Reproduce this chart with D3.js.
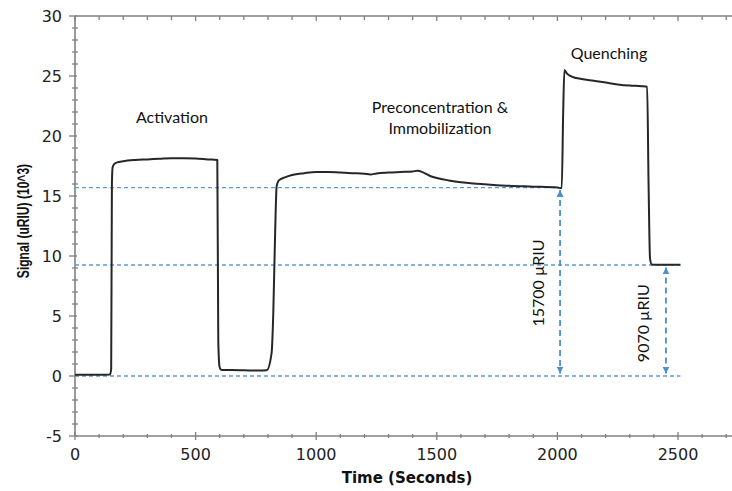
<!DOCTYPE html>
<html>
<head>
<meta charset="utf-8">
<script src="https://cdn.jsdelivr.net/npm/d3@7"></script>
<style>
  body { margin: 0; background: #fff; }
  svg { display: block; }
  .tick-label { font-family: "DejaVu Sans", sans-serif; font-size: 16px; fill: #222; }
  .axis-title { font-family: "DejaVu Sans", sans-serif; font-weight: bold; fill: #111; }
  .note { font-family: Lato, "Open Sans", sans-serif; font-size: 16px; fill: #111; }
</style>
</head>
<body>
<div class="chart"></div>
<script>
// sensorgram trace, time in seconds, signal in 10^3 uRIU
const times  = [0, 100, 145, 150, 153, 156, 162, 175, 200, 250, 300, 350, 400, 450, 500, 550, 590,
  594, 599, 604, 610, 650, 700, 760, 795, 815, 822, 829, 836, 845, 870, 900, 950, 1000, 1050,
  1100, 1150, 1200, 1225, 1250, 1300, 1350, 1400, 1420, 1445, 1475, 1500, 1550, 1600, 1650,
  1700, 1800, 1900, 2000, 2018, 2024, 2029, 2040, 2060, 2100, 2150, 2200, 2250, 2300, 2350,
  2372, 2378, 2384, 2391, 2410, 2450, 2510];
const signal = [0.1, 0.1, 0.12, 0.6, 16.0, 17.4, 17.65, 17.8, 17.9, 18.0, 18.05, 18.1, 18.15, 18.15, 18.12, 18.05, 18.0,
  3.0, 0.8, 0.55, 0.5, 0.5, 0.48, 0.45, 0.48, 1.9, 5.2, 11.3, 15.8, 16.3, 16.55, 16.75, 16.9, 17.0, 17.0,
  16.95, 16.9, 16.85, 16.8, 16.88, 16.95, 17.0, 17.05, 17.1, 16.95, 16.65, 16.5, 16.3, 16.15, 16.05,
  15.98, 15.85, 15.78, 15.7, 15.65, 22.0, 25.5, 25.2, 24.95, 24.75, 24.6, 24.45, 24.3, 24.2, 24.15,
  24.1, 16.0, 9.8, 9.3, 9.28, 9.27, 9.27];

// reference levels (dashed)
const refLevels = [15.7, 9.25, 0];
const refEnds   = [2020, 2510, 2510];

// measured differences
const arrowTimes  = [2011, 2450];
const arrowTops   = [15.5, 9.05];
const arrowLabels = ["15700 µRIU", "9070 µRIU"];
const arrowLabelX = [1920, 2355];
const arrowLabelY = [7.75, 4.4];

// phase annotations
const phaseLines = [["Activation"], ["Preconcentration &", "Immobilization"], ["Quenching"]];
const phaseX = [402, 1513, 2214];
const phaseY = [21.1, 21.9, 26.4];

const yTicks = [-5, 0, 5, 10, 15, 20, 25, 30];
const xTicks = [0, 500, 1000, 1500, 2000, 2500];

const W = 732, H = 491;
const margin = {top: 16, left: 75, bottom: 55};
const plotBottom = H - margin.bottom; // 436

const svg = d3.select(".chart").append("svg")
  .attr("width", W)
  .attr("height", H);

const x = d3.scaleLinear().domain([0, 2750]).range([margin.left, margin.left + 2750 * 0.2412]);
const y = d3.scaleLinear().domain([-5, 30]).range([plotBottom, margin.top]);

const defs = svg.append("defs");
defs.append("marker")
  .attr("id", "arr")
  .attr("viewBox", "0 0 10 10")
  .attr("refX", 10).attr("refY", 5)
  .attr("markerWidth", 7).attr("markerHeight", 7)
  .attr("markerUnits", "userSpaceOnUse")
  .attr("orient", "auto-start-reverse")
  .append("path")
  .attr("d", "M0,0 L10,5 L0,10 Z")
  .attr("fill", "#4a8fd4");

const axisColor = "#808080";

// axes
const minorX = d3.range(0, 2800, 100);
const minorY = d3.range(-5, 31, 1);

const g = svg.append("g");
g.append("line").attr("x1", x(0)).attr("x2", W).attr("y1", plotBottom).attr("y2", plotBottom)
  .attr("stroke", axisColor).attr("stroke-width", 1.6);
g.append("line").attr("x1", x(0)).attr("x2", W).attr("y1", margin.top).attr("y2", margin.top)
  .attr("stroke", axisColor).attr("stroke-width", 1.6);
g.append("line").attr("x1", x(0)).attr("x2", x(0)).attr("y1", margin.top).attr("y2", plotBottom)
  .attr("stroke", axisColor).attr("stroke-width", 1.6);

// bottom ticks
g.selectAll(".xb").data(minorX).join("line")
  .attr("x1", d => x(d)).attr("x2", d => x(d))
  .attr("y1", d => plotBottom - (d % 500 === 0 ? 4 : 2))
  .attr("y2", d => plotBottom + (d % 500 === 0 ? 4 : 2))
  .attr("stroke", axisColor).attr("stroke-width", 1.3);
// top ticks
g.selectAll(".xt").data(minorX).join("line")
  .attr("x1", d => x(d)).attr("x2", d => x(d))
  .attr("y1", margin.top)
  .attr("y2", d => margin.top + (d % 500 === 0 ? 5 : 4))
  .attr("stroke", axisColor).attr("stroke-width", 1.3);
// left ticks
g.selectAll(".yl").data(minorY).join("line")
  .attr("y1", d => y(d)).attr("y2", d => y(d))
  .attr("x1", d => x(0) - (d % 5 === 0 ? 6 : 3))
  .attr("x2", d => x(0) + (d % 5 === 0 ? 2 : 3))
  .attr("stroke", axisColor).attr("stroke-width", 1.3);

g.selectAll(".ylab").data(yTicks).join("text")
  .attr("class", "tick-label")
  .attr("x", x(0) - 13)
  .attr("y", d => y(d))
  .attr("dy", "0.36em")
  .attr("text-anchor", "end")
  .text(d => d);

g.selectAll(".xlab").data(xTicks).join("text")
  .attr("class", "tick-label")
  .attr("x", d => x(d))
  .attr("y", 460)
  .attr("text-anchor", "middle")
  .text(d => d);

svg.append("text")
  .attr("class", "axis-title")
  .attr("x", 407).attr("y", 483)
  .attr("text-anchor", "middle")
  .style("font-size", "15px")
  .text("Time (Seconds)");

// y title is drawn condensed, as in the source figure
svg.append("text")
  .attr("class", "axis-title")
  .attr("transform", "translate(29,221) rotate(-90) scale(0.71,1)")
  .attr("text-anchor", "middle")
  .style("font-family", "'Liberation Sans', Arial, sans-serif")
  .style("font-size", "17px")
  .text("Signal (uRIU) (10^3)");

// dashed reference lines
svg.selectAll(".ref").data(refLevels).join("line")
  .attr("x1", x(0)).attr("x2", (d, i) => x(refEnds[i]))
  .attr("y1", d => y(d)).attr("y2", d => y(d))
  .attr("stroke", "#5b9bd5").attr("stroke-width", 1.4)
  .attr("stroke-dasharray", "4,3");

// trace
const points = times.map((t, i) => [t, signal[i]]);
svg.append("path")
  .datum(points)
  .attr("fill", "none")
  .attr("stroke", "#262626")
  .attr("stroke-width", 2)
  .attr("stroke-linejoin", "round")
  .attr("d", d3.line().x(d => x(d[0])).y(d => y(d[1])).curve(d3.curveMonotoneX));

// double arrows
svg.selectAll(".arrow").data(arrowTimes).join("line")
  .attr("x1", d => x(d)).attr("x2", d => x(d))
  .attr("y1", (d, i) => y(arrowTops[i])).attr("y2", y(0.2))
  .attr("stroke", "#4a8fd4").attr("stroke-width", 1.8)
  .attr("stroke-dasharray", "6,4")
  .attr("marker-start", "url(#arr)")
  .attr("marker-end", "url(#arr)");

svg.selectAll(".alab").data(arrowLabels).join("text")
  .attr("class", "note")
  .attr("transform", (d, i) => `translate(${x(arrowLabelX[i])},${y(arrowLabelY[i])}) rotate(-90)`)
  .attr("text-anchor", "middle")
  .attr("dy", "0.35em")
  .text(d => d);

// phase labels
phaseLines.forEach((lines, i) => {
  svg.append("text")
    .attr("class", "note")
    .attr("x", x(phaseX[i]))
    .attr("y", y(phaseY[i]))
    .attr("text-anchor", "middle")
    .selectAll("tspan").data(lines).join("tspan")
    .attr("x", x(phaseX[i]))
    .attr("dy", (d, j) => j === 0 ? 0 : 21)
    .text(d => d);
});
</script>
</body>
</html>
